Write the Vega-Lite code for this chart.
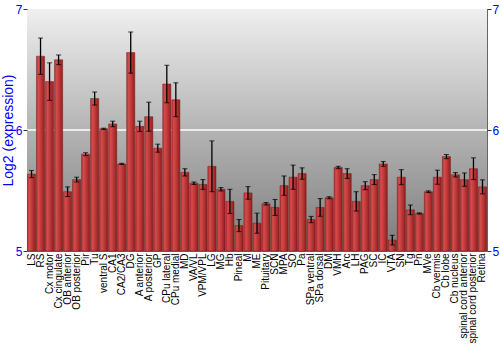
{
  "$schema": "https://vega.github.io/schema/vega-lite/v6.json",
  "width": 460,
  "height": 242,
  "autosize": "none",
  "padding": {"left": 27, "top": 9, "right": 13, "bottom": 99},
  "background": "white",
  "config": {
    "font": "Liberation Sans",
    "view": {"stroke": "#666666", "strokeWidth": 1}
  },
  "data": {
    "values": [
      {"region": "LS", "mean": 5.636, "err": 0.03},
      {"region": "RS", "mean": 6.61, "err": 0.15},
      {"region": "Cx motor", "mean": 6.40, "err": 0.155},
      {"region": "Cx cingulate", "mean": 6.58, "err": 0.04},
      {"region": "OB anterior", "mean": 5.49, "err": 0.04},
      {"region": "OB posterior", "mean": 5.59, "err": 0.02},
      {"region": "Pir", "mean": 5.80, "err": 0.012},
      {"region": "Tu", "mean": 6.26, "err": 0.054},
      {"region": "ventral S", "mean": 6.01, "err": 0.005},
      {"region": "CA1", "mean": 6.05, "err": 0.023},
      {"region": "CA2/CA3", "mean": 5.72, "err": 0.005},
      {"region": "DG", "mean": 6.64, "err": 0.17},
      {"region": "A anterior", "mean": 6.03, "err": 0.043},
      {"region": "A posterior", "mean": 6.11, "err": 0.12},
      {"region": "GP", "mean": 5.85, "err": 0.033},
      {"region": "CPu lateral", "mean": 6.38, "err": 0.155},
      {"region": "CPu medial", "mean": 6.25, "err": 0.14},
      {"region": "MD", "mean": 5.65, "err": 0.03},
      {"region": "VA/VL", "mean": 5.56, "err": 0.01},
      {"region": "VPM/VPL", "mean": 5.55, "err": 0.04},
      {"region": "LG", "mean": 5.70, "err": 0.21},
      {"region": "MG", "mean": 5.51, "err": 0.014},
      {"region": "Hb", "mean": 5.41, "err": 0.10},
      {"region": "Pineal", "mean": 5.21, "err": 0.05},
      {"region": "M", "mean": 5.48, "err": 0.052},
      {"region": "ME", "mean": 5.23, "err": 0.083},
      {"region": "Pituitary", "mean": 5.39, "err": 0.01},
      {"region": "SCN", "mean": 5.36, "err": 0.066},
      {"region": "MPA", "mean": 5.54, "err": 0.08},
      {"region": "SO", "mean": 5.61, "err": 0.10},
      {"region": "Pa", "mean": 5.64, "err": 0.047},
      {"region": "SPa ventral", "mean": 5.26, "err": 0.026},
      {"region": "SPa dorsal", "mean": 5.36, "err": 0.073},
      {"region": "DM", "mean": 5.44, "err": 0.008},
      {"region": "VMH", "mean": 5.69, "err": 0.01},
      {"region": "Arc", "mean": 5.64, "err": 0.04},
      {"region": "LH", "mean": 5.41, "err": 0.08},
      {"region": "PAG", "mean": 5.54, "err": 0.033},
      {"region": "SC", "mean": 5.59, "err": 0.041},
      {"region": "IC", "mean": 5.72, "err": 0.02},
      {"region": "VTA", "mean": 5.09, "err": 0.04},
      {"region": "SN", "mean": 5.61, "err": 0.062},
      {"region": "Tg", "mean": 5.34, "err": 0.04},
      {"region": "Pn", "mean": 5.31, "err": 0.005},
      {"region": "MVe", "mean": 5.49, "err": 0.007},
      {"region": "Cb vermis", "mean": 5.61, "err": 0.058},
      {"region": "Cb lobe", "mean": 5.78, "err": 0.017},
      {"region": "Cb nucleus", "mean": 5.63, "err": 0.018},
      {"region": "spinal cord anterior", "mean": 5.59, "err": 0.055},
      {"region": "spinal cord posterior", "mean": 5.68, "err": 0.09},
      {"region": "Retina", "mean": 5.53, "err": 0.058}
    ]
  },
  "encoding": {
    "x": {
      "field": "region",
      "type": "nominal",
      "sort": null,
      "scale": {"paddingInner": 0.1, "paddingOuter": 0.05},
      "axis": {
        "title": null,
        "labelAngle": -90,
        "labelAlign": "right",
        "labelBaseline": "middle",
        "labelFontSize": 10,
        "labelColor": "#000000",
        "labelPadding": 2,
        "labelOverlap": false,
        "ticks": false,
        "domain": false
      }
    }
  },
  "layer": [
    {
      "data": {"values": [{}]},
      "mark": {
        "type": "rect",
        "fill": {
          "gradient": "linear",
          "x1": 0, "y1": 0, "x2": 0, "y2": 1,
          "stops": [
            {"offset": 0, "color": "#efefef"},
            {"offset": 0.5, "color": "#b4b4b4"},
            {"offset": 1, "color": "#7c7c7c"}
          ]
        }
      },
      "encoding": {
        "x": null,
        "y": {
          "datum": 7,
          "type": "quantitative",
          "scale": {"domain": [5, 7], "zero": false, "nice": false},
          "axis": {
            "orient": "right",
            "title": null,
            "tickCount": 2,
            "labelColor": "#0000ff",
            "labelFontSize": 12,
            "labelPadding": 1,
            "labelFlush": false,
            "labelOverlap": false,
            "labelBaseline": "middle",
            "tickSize": 4,
            "tickColor": "#333333",
            "domain": false,
            "grid": false,
            "zindex": 1
          }
        },
        "y2": {"datum": 5}
      }
    },
    {
      "data": {"values": [{}]},
      "mark": {"type": "rule", "color": "#ffffff", "strokeWidth": 1.5},
      "encoding": {
        "x": null,
        "y": {"datum": 6, "type": "quantitative", "scale": {"domain": [5, 7], "zero": false, "nice": false}, "axis": null}
      }
    },
    {
      "mark": {
        "type": "bar",
        "fill": {
          "gradient": "linear",
          "x1": 0, "y1": 0, "x2": 1, "y2": 0,
          "stops": [
            {"offset": 0, "color": "#b43434"},
            {"offset": 0.25, "color": "#d44c4c"},
            {"offset": 0.7, "color": "#b33030"},
            {"offset": 1, "color": "#8a1e1e"}
          ]
        },
        "stroke": "#7a1c1c",
        "strokeWidth": 0.5
      },
      "encoding": {
        "y": {
          "field": "mean",
          "type": "quantitative",
          "scale": {"domain": [5, 7], "zero": false, "nice": false},
          "axis": {
            "orient": "left",
            "title": "Log2 (expression)",
            "titleColor": "#0000ff",
            "titleFontSize": 14,
            "titleFontWeight": "normal",
            "titleX": -19,
            "titleBaseline": "middle",
            "tickCount": 2,
            "labelColor": "#0000ff",
            "labelFontSize": 12,
            "labelPadding": 1,
            "labelFlush": false,
            "labelOverlap": false,
            "labelBaseline": "middle",
            "tickSize": 4,
            "tickColor": "#333333",
            "domain": false,
            "grid": false,
            "zindex": 1
          }
        },
        "y2": {"datum": 5}
      }
    },
    {
      "mark": {
        "type": "errorbar",
        "ticks": {"size": 5, "color": "#000000", "opacity": 0.75},
        "rule": {"strokeWidth": 1.3, "color": "#000000"}
      },
      "encoding": {
        "y": {"field": "mean", "type": "quantitative", "scale": {"domain": [5, 7], "zero": false, "nice": false}, "axis": null},
        "yError": {"field": "err"}
      }
    }
  ],
  "resolve": {"scale": {"y": "independent"}, "axis": {"y": "independent"}}
}
